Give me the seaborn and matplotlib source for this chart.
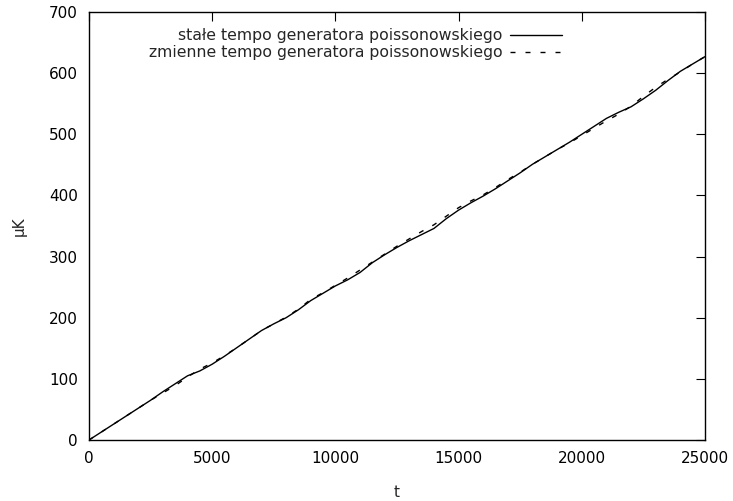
import matplotlib
matplotlib.use("Agg")
import matplotlib.pyplot as plt
import seaborn as sns
import pandas as pd

t_values = [0, 500, 1000, 1500, 2000, 2500, 3000, 3500, 4000, 4500, 5000, 5500,
            6000, 6500, 7000, 7500, 8000, 8500, 9000, 9500, 10000, 10500, 11000,
            11500, 12000, 12500, 13000, 13500, 14000, 14500, 15000, 15500, 16000,
            16500, 17000, 17500, 18000, 18500, 19000, 19500, 20000, 20500, 21000,
            21500, 22000, 22500, 23000, 23500, 24000, 24500, 25000]

stale = [0, 13, 26, 39, 52, 65, 79, 92, 105, 113, 124, 137,
         151, 165, 179, 190, 200, 213, 228, 240, 252, 262, 274,
         290, 303, 315, 326, 336, 346, 362, 376, 388, 399,
         411, 424, 437, 451, 463, 475, 487, 500, 513, 526,
         536, 545, 558, 572, 588, 603, 615, 627]

zmienne = [0, 13, 26, 39, 52, 65, 77, 89, 103, 116, 126, 138,
           151, 165, 179, 190, 201, 214, 230, 241, 253, 265, 278,
           291, 304, 317, 329, 341, 352, 366, 380, 391, 401,
           413, 426, 438, 451, 463, 475, 486, 498, 510, 522,
           533, 546, 562, 577, 590, 602, 615, 627]

labels = ["stałe tempo generatora poissonowskiego",
          "zmienne tempo generatora poissonowskiego"]

sns.set_style("white")
plt.rcParams['font.family'] = ['DejaVu Sans']
plt.rcParams['font.size'] = 11

df = pd.DataFrame({"t": t_values + t_values,
                   "mu": stale + zmienne,
                   "seria": [labels[0]] * len(t_values) + [labels[1]] * len(t_values)})

fig = plt.figure(figsize=(7.33, 5.01), dpi=100)
ax = fig.add_axes([89 / 733, 61 / 501, 616 / 733, 428 / 501])

sns.lineplot(data=df[df.seria == labels[0]], x="t", y="mu", ax=ax,
             color="black", linewidth=1.0, label=labels[0])
sns.lineplot(data=df[df.seria == labels[1]], x="t", y="mu", ax=ax,
             color="black", linewidth=1.0, linestyle=(0, (3.6, 7.2)), label=labels[1])

ax.set_xlim(0, 25000)
ax.set_ylim(0, 700)
ax.set_xticks([0, 5000, 10000, 15000, 20000, 25000])
ax.set_yticks([0, 100, 200, 300, 400, 500, 600, 700])
ax.tick_params(direction="in", length=6.5, width=0.8, top=True, right=True,
               labelsize=11, pad=8, colors="black")
for s in ax.spines.values():
    s.set_color("black")
    s.set_linewidth(1.0)

ax.set_xlabel("t", fontsize=11, labelpad=13.5)
ax.set_ylabel("μK", fontsize=11, labelpad=16)

leg = ax.legend(loc="upper right", bbox_to_anchor=(562 / 733, 473 / 501),
                bbox_transform=fig.transFigure, frameon=False, markerfirst=False,
                handlelength=3.3, handletextpad=0.5, labelspacing=0.15,
                borderpad=0, borderaxespad=0, fontsize=11.3)

fig.savefig("out.png", dpi=100)
